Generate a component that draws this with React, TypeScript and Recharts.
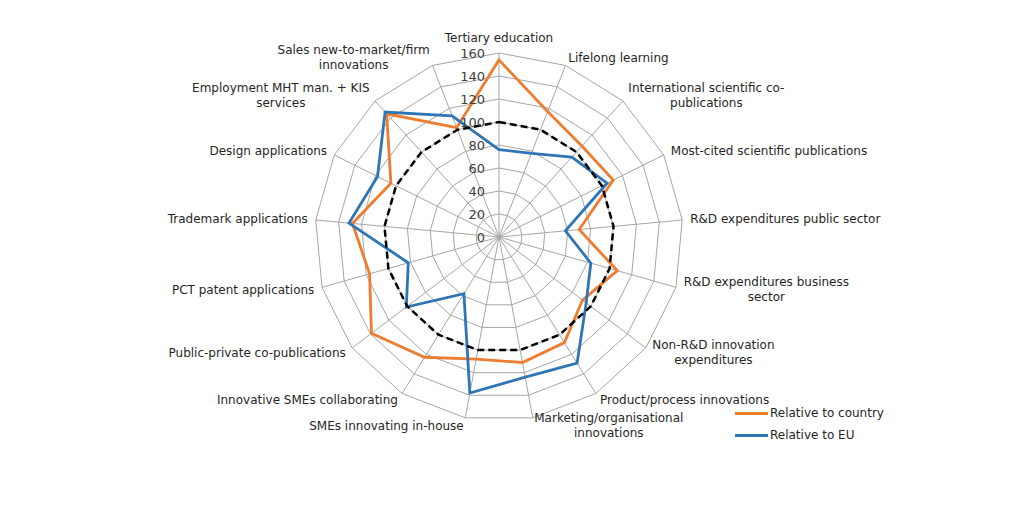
import React from "react";
import { RadarChart, Radar, PolarGrid, PolarAngleAxis, PolarRadiusAxis, Legend } from "recharts";

const categories = [
  "Tertiary education",
  "Lifelong learning",
  "International scientific co-\npublications",
  "Most-cited scientific publications",
  "R&D expenditures public sector",
  "R&D expenditures business\nsector",
  "Non-R&D innovation\nexpenditures",
  "Product/process innovations",
  "Marketing/organisational\ninnovations",
  "SMEs innovating in-house",
  "Innovative SMEs collaborating",
  "Public-private co-publications",
  "PCT patent applications",
  "Trademark applications",
  "Design applications",
  "Employment MHT man. + KIS\nservices",
  "Sales new-to-market/firm\ninnovations",
];
const relativeToCountry = [154, 117, 107, 111, 70, 107, 91, 108, 111, 108, 123, 139, 117, 128, 105, 145, 102];
const relativeToEU = [76, 78, 94, 105, 58, 83, 95, 129, 124, 138, 58, 101, 82, 131, 118, 147, 113];
const euLevel = [100, 100, 100, 100, 100, 100, 100, 100, 100, 100, 100, 100, 100, 100, 100, 100, 100];
const radiusTicks = [0, 20, 40, 60, 80, 100, 120, 140, 160];
const legendOrder = ["Relative to country", "Relative to EU"];

const ORANGE = "#ED7D31";
const BLUE = "#2E75B6";
const FONT = "'DejaVu Sans', Verdana, sans-serif";

const data = categories.map((name, i) => ({
  name,
  country: relativeToCountry[i],
  eu: relativeToEU[i],
  level: euLevel[i],
}));

let ctx: CanvasRenderingContext2D | null = null;
function textWidth(s: string) {
  if (!ctx) ctx = document.createElement("canvas").getContext("2d");
  if (!ctx) return s.length * 7;
  ctx.font = `12px ${FONT}`;
  return ctx.measureText(s).width;
}

function AngleTick(props: any) {
  const { x, y, payload } = props;
  const a = (payload.coordinate * Math.PI) / 180;
  const dx = Math.cos(a);
  const dy = -Math.sin(a);
  const lines = String(payload.value).split("\n");
  const lh = 15;
  const h = lines.length * lh;
  const w = Math.max(...lines.map(textWidth));
  let midX = x;
  if (Math.abs(dx) >= 0.1) midX = dx > 0 ? x + w / 2 : x - w / 2;
  const midY = Math.abs(dx) < 0.1 ? y + (dy * h) / 2 : y;
  const top = midY - h / 2;
  return (
    <text textAnchor="middle" fontSize={12} fontFamily={FONT} fill="#262626">
      {lines.map((l, i) => (
        <tspan key={i} x={midX} y={top + lh * (i + 0.5) + 4}>
          {l}
        </tspan>
      ))}
    </text>
  );
}

function RadiusTick(props: any) {
  const { x, y, payload } = props;
  return (
    <text x={x - 14} y={y + 4.5} textAnchor="end" fontSize={13} fontFamily={FONT} fill="#404040">
      {payload.value}
    </text>
  );
}

function LegendBox(props: any) {
  const items = (props.payload || [])
    .filter((p: any) => legendOrder.includes(p.value))
    .sort((a: any, b: any) => legendOrder.indexOf(a.value) - legendOrder.indexOf(b.value));
  return (
    <div style={{ fontFamily: FONT, fontSize: 12, color: "#262626" }}>
      {items.map((p: any) => (
        <div key={p.value} style={{ display: "flex", alignItems: "center", height: 22 }}>
          <span style={{ display: "inline-block", width: 33, height: 3, background: p.color, marginRight: 2 }} />
          {p.value}
        </div>
      ))}
    </div>
  );
}

export default function App() {
  return (
    <div style={{ position: "absolute", left: 0, top: 0, width: 1024, height: 505, background: "#fff" }}>
      <RadarChart width={1024} height={505} data={data} cx={499} cy={237} outerRadius={184} margin={{ top: 0, right: 0, bottom: 0, left: 0 }}>
        <PolarGrid stroke="#a6a6a6" strokeWidth={1} />
        <PolarAngleAxis dataKey="name" tick={<AngleTick />} tickLine={false} axisLine={false} />
        <PolarRadiusAxis
          angle={90}
          domain={[0, 160]}
          ticks={radiusTicks as any}
          tickCount={9}
          axisLine={false}
          tickLine={false}
          tick={<RadiusTick />}
        />
        <Radar name="Relative to country" dataKey="country" stroke={ORANGE} strokeWidth={2.8} fill="none" fillOpacity={0} dot={false} isAnimationActive={false} />
        <Radar name="Relative to EU" dataKey="eu" stroke={BLUE} strokeWidth={2.8} fill="none" fillOpacity={0} dot={false} isAnimationActive={false} />
        <Radar name="EU" dataKey="level" stroke="#000" strokeWidth={2.5} strokeDasharray="7 4" fill="none" fillOpacity={0} dot={false} legendType="none" isAnimationActive={false} />
        <Legend
          layout="vertical"
          verticalAlign="top"
          align="left"
          wrapperStyle={{ left: 735, top: 402, width: 200 }}
          content={<LegendBox />}
        />
      </RadarChart>
    </div>
  );
}
